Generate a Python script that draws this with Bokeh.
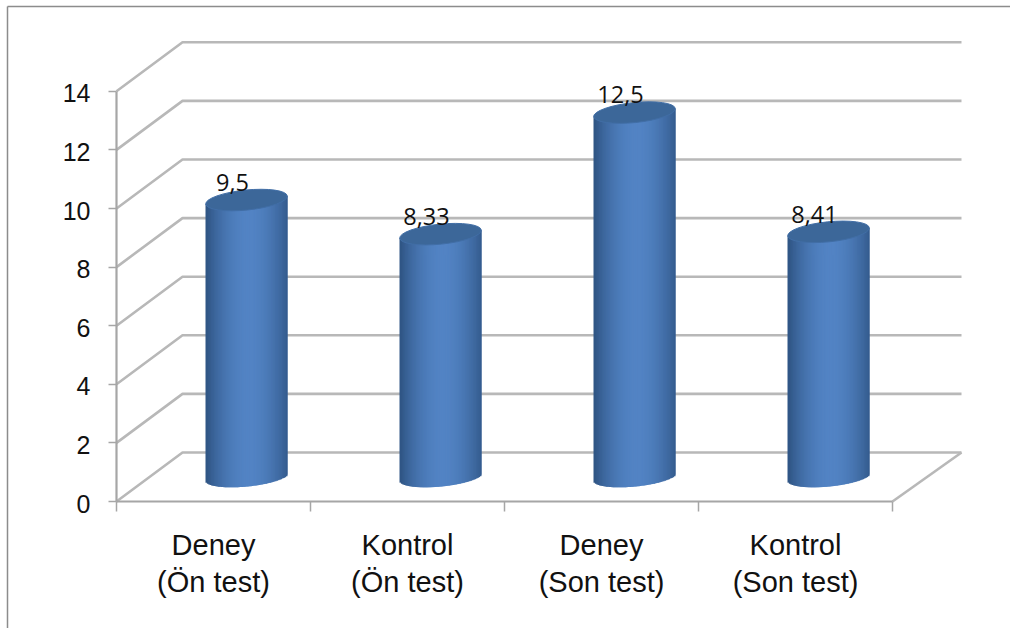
from math import sqrt, cos, pi
from bokeh.plotting import figure
from bokeh.models import Range1d, LinearAxis, FixedTicker
from bokeh.core.properties import value
from bokeh.embed import file_html
from bokeh.resources import INLINE

categories = ["Deney\n(Ön test)", "Kontrol\n(Ön test)", "Deney\n(Son test)", "Kontrol\n(Son test)"]
scores = [9.5, 8.33, 12.5, 8.41]
score_labels = ["9,5", "8,33", "12,5", "8,41"]
y_ticks = [0, 2, 4, 6, 8, 10, 12, 14]

W, H = 1010, 628
ORIGIN_X, ORIGIN_Y = 116, 501      # pixel position of the data origin
PX_X, PX_Y = 194.0, 29.3           # pixels per category / per score unit
DEPTH_X, DEPTH_Y = 66 / PX_X, 49 / PX_Y   # oblique offset of the back wall
BACK_EXTRA = 3 / PX_X              # back wall runs a little wider on the right
BAR_A, BAR_B, BAR_TILT = 41.0, 9.5, 4.0   # cylinder ellipse, in pixels
BAR_SCALE = 0.995                  # heights shrink slightly at mid depth

p = figure(width=W, height=H, output_backend="svg", toolbar_location=None,
           x_range=Range1d(-ORIGIN_X / PX_X, (W - ORIGIN_X) / PX_X),
           y_range=Range1d((ORIGIN_Y - H) / PX_Y, ORIGIN_Y / PX_Y),
           min_border=0, min_border_left=0, min_border_right=0,
           min_border_top=0, min_border_bottom=0, outline_line_color=None,
           background_fill_color="white", border_fill_color="white")
p.grid.visible = False
p.axis.visible = False

GRID = "#b8b8b8"
AXIS = "#a6a6a6"
n = len(categories)

# outer chart frame: top and left edges only
fx0 = (7 - ORIGIN_X) / PX_X
fy0 = (ORIGIN_Y - 6) / PX_Y
p.line([fx0, fx0], [(ORIGIN_Y - H) / PX_Y, fy0], line_color="#8c8c8c", line_width=1.5)
p.line([fx0, (W - ORIGIN_X) / PX_X], [fy0, fy0], line_color="#8c8c8c", line_width=1.5)

# oblique side-wall lines and horizontal back-wall lines
for v in y_ticks:
    p.line([0, DEPTH_X, n + DEPTH_X + BACK_EXTRA], [v, v + DEPTH_Y, v + DEPTH_Y],
           line_color=GRID, line_width=2.6, line_join="round")
# floor edge on the right
p.line([n, n + DEPTH_X + BACK_EXTRA], [0, DEPTH_Y], line_color=GRID, line_width=2.6)

# value axis, pinned at the origin inside the frame
ya = LinearAxis(fixed_location=0, bounds=(0, 14), ticker=FixedTicker(ticks=y_ticks))
ya.axis_line_color = AXIS
ya.axis_line_width = 2.2
ya.major_tick_line_color = AXIS
ya.major_tick_line_width = 1.5
ya.major_tick_in = 0
ya.major_tick_out = 8
ya.minor_tick_line_color = None
ya.major_label_text_font_size = "0px"
ya.major_label_text_color = None
p.add_layout(ya, "left")

xa = LinearAxis(fixed_location=0, bounds=(0, n), ticker=FixedTicker(ticks=list(range(n + 1))))
xa.axis_line_color = AXIS
xa.axis_line_width = 2.2
xa.major_tick_line_color = AXIS
xa.major_tick_line_width = 1.5
xa.major_tick_in = 0
xa.major_tick_out = 10
xa.minor_tick_line_color = None
xa.major_label_text_font_size = "0px"
xa.major_label_text_color = None
p.add_layout(xa, "below")

# value axis labels
p.text(x=[0] * len(y_ticks), y=y_ticks, text=[str(v) for v in y_ticks],
       x_offset=-26, y_offset=2, text_align="right", text_baseline="middle",
       text_font=value("Liberation Sans"), text_font_size="25px", text_color="#111111")

# shaded cylinders built from narrow overlapping vertical strips
STRIPS = 60
def shade(t):
    m = cos((t - 0.05) * pi / 2) ** 0.85 if abs(t - 0.05) < 1 else 0
    dark, light = (48, 86, 134), (82, 131, 196)
    return "#%02x%02x%02x" % tuple(round(d + (l - d) * m) for d, l in zip(dark, light))

for i, v in enumerate(scores):
    cx = i + 0.5 + DEPTH_X / 2
    base = DEPTH_Y / 2
    top = v * BAR_SCALE + base
    left, right, tops, bottoms, colors = [], [], [], [], []
    for s in range(STRIPS):
        t0 = -1 + 2 * s / STRIPS
        t1 = min(1, -1 + 2 * (s + 2) / STRIPS)
        tm = -1 + 2 * (s + 0.5) / STRIPS
        left.append(cx + t0 * BAR_A / PX_X)
        right.append(cx + t1 * BAR_A / PX_X)
        tops.append(top + BAR_TILT * tm / PX_Y)
        bottoms.append(base + (BAR_TILT * tm - BAR_B * sqrt(1 - tm * tm)) / PX_Y)
        colors.append(shade(tm))
    p.quad(left=left, right=right, top=tops, bottom=bottoms,
           fill_color=colors, line_color=None)
    p.ellipse(x=[cx], y=[top], width=82, height=20, width_units="screen", height_units="screen",
              angle=0.10, fill_color="#3c6799", line_color="#416ea6", line_width=1)

# value labels above each cylinder
p.text(x=[i + 0.5 for i in range(n)], y=scores, text=score_labels,
       x_offset=19, y_offset=-40.5, text_align="center", text_baseline="middle",
       text_font=value("Open Sans"), text_font_size="23.5px", text_color="#111111")

# category labels, two lines each
p.text(x=[i + 0.5 for i in range(n)], y=[0] * n, text=categories,
       y_offset=27, text_align="center", text_baseline="top", text_line_height=1.18,
       text_font=value("Liberation Sans"), text_font_size="29px", text_color="#111111")

open("out.html", "w").write(file_html(p, INLINE))
